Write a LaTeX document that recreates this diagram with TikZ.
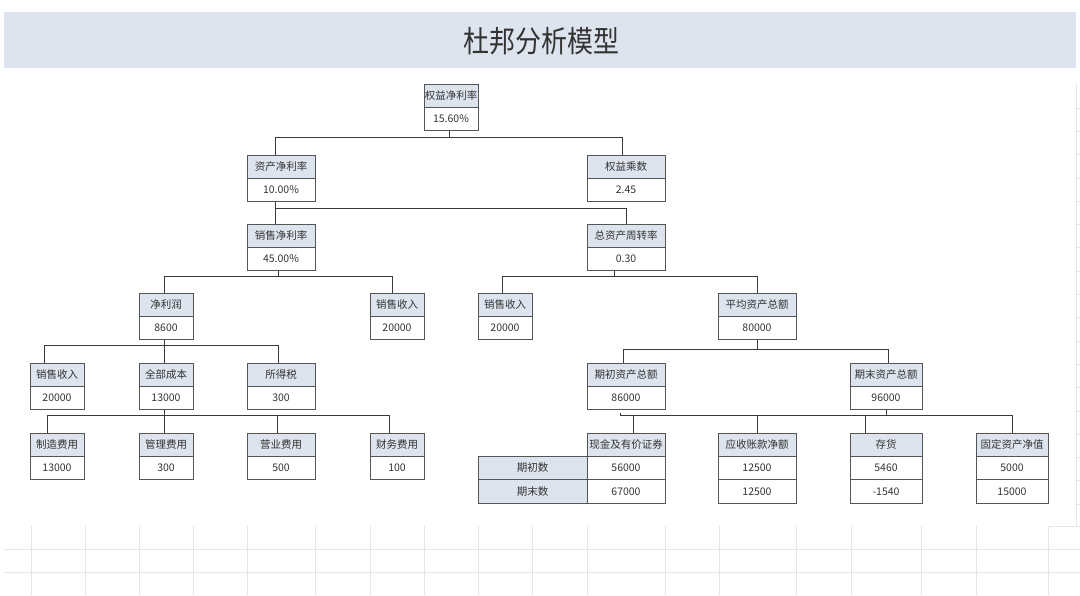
\documentclass[tikz,border=0pt]{standalone}
\usepackage{fontspec}
\usepackage{graphicx}
\newfontfamily\cjk{Noto Sans CJK SC}
\usepackage{tikz}
\usetikzlibrary{positioning}
\definecolor{hdrfill}{HTML}{DDE4EE}
\definecolor{boxline}{HTML}{555555}
\definecolor{linkcol}{HTML}{3A3A3A}
\definecolor{gridcol}{HTML}{E6E6E6}
\definecolor{txtcol}{HTML}{333333}
\tikzset{
  hdr/.style={draw=boxline, fill=hdrfill, line width=1pt, minimum width=#1,
    minimum height=23pt, inner sep=0pt, outer sep=0pt, anchor=north,
    text=txtcol, font=\cjk\fontsize{10.5}{12}\selectfont},
  val/.style={hdr=#1, fill=white, minimum height=23.5pt},
  link/.style={draw=linkcol, line width=0.9pt},
  gridline/.style={draw=gridcol, line width=0.8pt}
}

\begin{document}
\begin{tikzpicture}[x=1pt, y=-1pt]
  \useasboundingbox (0,0) rectangle (1080,595);

  % Title band
  \fill[hdrfill] (4,12) rectangle (1076,68);
  \node[text=txtcol, font=\cjk\fontsize{26}{30}\selectfont] (title) at (541,41)
    {\scalebox{1}[1.15]{杜邦分析模型}};

  % Sheet grid below the chart
  \foreach \gx in {31,85,139,193,247,315,370,424,478,532,587,665,719,796,851,921,976,1048}
    \draw[gridline] (\gx,526) -- (\gx,595);
  \foreach \gy in {549,572}
    \draw[gridline] (4,\gy) -- (1080,\gy);
  \draw[gridline] (1048,526) -- (1080,526);
  \draw[gridline] (1076,84) -- (1076,526);
  \foreach \k in {0,...,17}
    \draw[gridline] (1076,{108+23.3*\k}) -- (1080,{108+23.3*\k});

  % Level 1
  \node[hdr=54pt] (roe) at (451,84) {权益净利率};
  \node[val=54pt, below=0pt of roe] (roe-v) {15.60\%};

  % Level 2
  \node[hdr=68pt] (roa) at (281,155) {资产净利率};
  \node[val=68pt, below=0pt of roa] (roa-v) {10.00\%};
  \node[hdr=78pt] (em) at (626,155) {权益乘数};
  \node[val=78pt, below=0pt of em] (em-v) {2.45};

  % Level 3
  \node[hdr=68pt] (npm) at (281,224) {销售净利率};
  \node[val=68pt, below=0pt of npm] (npm-v) {45.00\%};
  \node[hdr=78pt] (tat) at (626,224) {总资产周转率};
  \node[val=78pt, below=0pt of tat] (tat-v) {0.30};

  % Level 4
  \node[hdr=54pt] (np) at (166,293) {净利润};
  \node[val=54pt, below=0pt of np] (np-v) {8600};
  \node[hdr=54pt] (sr1) at (397,293) {销售收入};
  \node[val=54pt, below=0pt of sr1] (sr1-v) {20000};
  \node[hdr=54pt] (sr2) at (505,293) {销售收入};
  \node[val=54pt, below=0pt of sr2] (sr2-v) {20000};
  \node[hdr=78pt] (avg) at (757,293) {平均资产总额};
  \node[val=78pt, below=0pt of avg] (avg-v) {80000};

  % Level 5
  \node[hdr=54pt] (sr3) at (57,363) {销售收入};
  \node[val=54pt, below=0pt of sr3] (sr3-v) {20000};
  \node[hdr=54pt] (tc) at (166,363) {全部成本};
  \node[val=54pt, below=0pt of tc] (tc-v) {13000};
  \node[hdr=68pt] (tax) at (281,363) {所得税};
  \node[val=68pt, below=0pt of tax] (tax-v) {300};
  \node[hdr=78pt] (bta) at (626,363) {期初资产总额};
  \node[val=78pt, below=0pt of bta] (bta-v) {86000};
  \node[hdr=72pt] (eta) at (886,363) {期末资产总额};
  \node[val=72pt, below=0pt of eta] (eta-v) {96000};

  % Level 6: cost items
  \node[hdr=54pt] (mfg) at (57,433) {制造费用};
  \node[val=54pt, below=0pt of mfg] (mfg-v) {13000};
  \node[hdr=54pt] (adm) at (166,433) {管理费用};
  \node[val=54pt, below=0pt of adm] (adm-v) {300};
  \node[hdr=68pt] (sell) at (281,433) {营业费用};
  \node[val=68pt, below=0pt of sell] (sell-v) {500};
  \node[hdr=54pt] (fin) at (397,433) {财务费用};
  \node[val=54pt, below=0pt of fin] (fin-v) {100};

  % Level 6: asset items
  \node[hdr=78pt] (cash) at (626,433) {现金及有价证券};
  \node[val=78pt, below=0pt of cash] (cash-b) {56000};
  \node[val=78pt, below=0pt of cash-b] (cash-e) {67000};
  \node[hdr=78pt] (ar) at (757,433) {应收账款净额};
  \node[val=78pt, below=0pt of ar] (ar-b) {12500};
  \node[val=78pt, below=0pt of ar-b] (ar-e) {12500};
  \node[hdr=72pt] (inv) at (886,433) {存货};
  \node[val=72pt, below=0pt of inv] (inv-b) {5460};
  \node[val=72pt, below=0pt of inv-b] (inv-e) {-1540};
  \node[hdr=72pt] (fa) at (1012,433) {固定资产净值};
  \node[val=72pt, below=0pt of fa] (fa-b) {5000};
  \node[val=72pt, below=0pt of fa-b] (fa-e) {15000};
  \node[hdr=109pt, minimum height=23.5pt, left=0pt of cash-b] (open) {期初数};
  \node[hdr=109pt, minimum height=23.5pt, left=0pt of cash-e] (close) {期末数};

  % Connectors
  \draw[link] ([xshift=-2pt]roe-v.south) -- ++(0,7) -| ([xshift=-6pt]roa.north);
  \draw[link] ([xshift=-2pt]roe-v.south) -- ++(0,7) -| ([xshift=-4pt]em.north);

  \draw[link] ([xshift=-6pt]roa-v.south) -- ([xshift=-6pt]npm.north);
  \draw[link] ([xshift=-6pt]roa-v.south) -- ++(0,6.5) -| (tat.north);

  \draw[link] ([xshift=-3pt]npm-v.south) -- ++(0,6) -| ([xshift=-2pt]np.north);
  \draw[link] ([xshift=-3pt]npm-v.south) -- ++(0,6) -| ([xshift=-5pt]sr1.north);

  \draw[link] ([xshift=-12pt]tat-v.south) -- ++(0,6) -| ([xshift=-3pt]sr2.north);
  \draw[link] ([xshift=-12pt]tat-v.south) -- ++(0,6) -| (avg.north);

  \draw[link] ([xshift=-2pt]np-v.south) -- ++(0,6) -| ([xshift=-13pt]sr3.north);
  \draw[link] ([xshift=-2pt]np-v.south) -- ([xshift=-2pt]tc.north);
  \draw[link] ([xshift=-2pt]np-v.south) -- ++(0,6) -| ([xshift=-3pt]tax.north);

  \draw[link] (avg-v.south) -- ++(0,10) -| ([xshift=-3pt]bta.north);
  \draw[link] (avg-v.south) -- ++(0,10) -| ([xshift=2pt]eta.north);

  \draw[link] ([xshift=-2pt]tc-v.south) -- ++(0,6) -| ([xshift=-10pt]mfg.north);
  \draw[link] ([xshift=-2pt]tc-v.south) -- ([xshift=-2pt]adm.north);
  \draw[link] ([xshift=-2pt]tc-v.south) -- ++(0,6) -| ([xshift=-4pt]sell.north);
  \draw[link] ([xshift=-2pt]tc-v.south) -- ++(0,6) -| ([xshift=-8pt]fin.north);

  \draw[link] (eta-v.south) -- ++(0,5.5) -| ([xshift=7pt]cash.north);
  \draw[link] (eta-v.south) -- ++(0,5.5) -| (ar.north);
  \draw[link] (eta-v.south) -- ++(0,5.5) -| ([xshift=-21pt]inv.north);
  \draw[link] (eta-v.south) -- ++(0,5.5) -| (fa.north);
  \draw[link] ([xshift=-6pt]bta-v.south) ++(0,3) -- ++(0,2.5) -| ([xshift=7pt]cash.north);

\end{tikzpicture}
\end{document}
